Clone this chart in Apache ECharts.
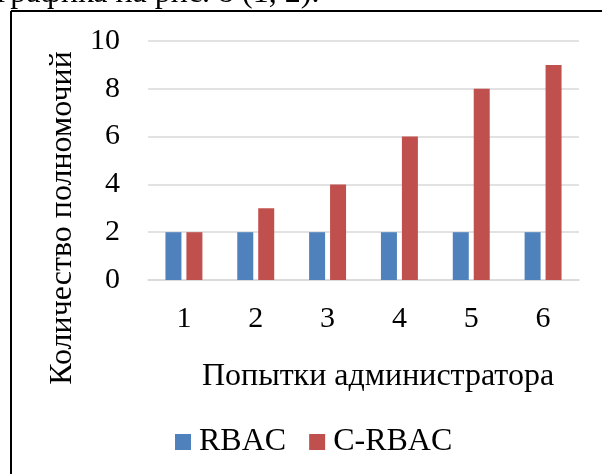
<!DOCTYPE html>
<html>
<head>
<meta charset="utf-8">
<script src="https://cdn.jsdelivr.net/npm/echarts@6/dist/echarts.min.js"></script>
<style>
html,body{margin:0;padding:0;background:#fff;}
#chart{width:602px;height:474px;}
</style>
</head>
<body>
<div id="chart"></div>
<script>
var categories = ['1', '2', '3', '4', '5', '6'];
var rbacValues = [2, 2, 2, 2, 2, 2];
var crbacValues = [2, 3, 4, 6, 8, 9];
var seriesNames = ['RBAC', 'C-RBAC'];
var yAxisTitle = 'Количество полномочий';
var xAxisTitle = 'Попытки администратора';
var captionText = 'графика на рис. 8 (1, 2).';

var serif = 'Liberation Serif';
var chart = echarts.init(document.getElementById('chart'), null, {renderer: 'canvas'});
chart.setOption({
  animation: false,
  backgroundColor: '#fff',
  grid: {left: 148, right: 23, top: 41, bottom: 194, containLabel: false},
  legend: {
    data: seriesNames,
    bottom: 16,
    left: 175,
    padding: 0,
    itemWidth: 16,
    itemHeight: 16,
    itemGap: 23,
    icon: 'rect',
    textStyle: {fontFamily: serif, fontSize: 32, color: '#000', padding: [0, 0, 0, 3]}
  },
  xAxis: {
    type: 'category',
    data: categories,
    name: xAxisTitle,
    nameLocation: 'middle',
    nameGap: 81,
    nameTextStyle: {fontFamily: serif, fontSize: 32, color: '#000', padding: [0, 0, 0, 29]},
    axisLine: {lineStyle: {color: '#d9d9d9', width: 1.5}},
    axisTick: {show: false},
    axisLabel: {fontFamily: serif, fontSize: 30, color: '#000', margin: 24}
  },
  yAxis: {
    type: 'value',
    min: 0,
    max: 10,
    interval: 2,
    axisLine: {show: false},
    axisTick: {show: false},
    axisLabel: {fontFamily: serif, fontSize: 30, color: '#000', margin: 28},
    splitLine: {lineStyle: {color: '#d9d9d9', width: 1.5}}
  },
  series: [
    {name: seriesNames[0], type: 'bar', data: rbacValues, barWidth: 16, barGap: '31%',
     itemStyle: {color: '#4f81bd'}},
    {name: seriesNames[1], type: 'bar', data: crbacValues, barWidth: 16, barGap: '31%',
     itemStyle: {color: '#c0504d'}}
  ],
  graphic: [
    {type: 'text', x: -3, y: -22,
     style: {text: captionText, font: '32px Liberation Serif', fill: '#000'}},
    {type: 'line', shape: {x1: 11, y1: 11, x2: 602, y2: 11}, style: {stroke: '#000', lineWidth: 2}},
    {type: 'line', shape: {x1: 11, y1: 11, x2: 11, y2: 474}, style: {stroke: '#000', lineWidth: 2}},
    {type: 'text', x: 63, y: 218, rotation: Math.PI / 2,
     style: {text: yAxisTitle, font: '32px Liberation Serif', fill: '#000', align: 'center', verticalAlign: 'middle'}}
  ]
});
</script>
</body>
</html>
